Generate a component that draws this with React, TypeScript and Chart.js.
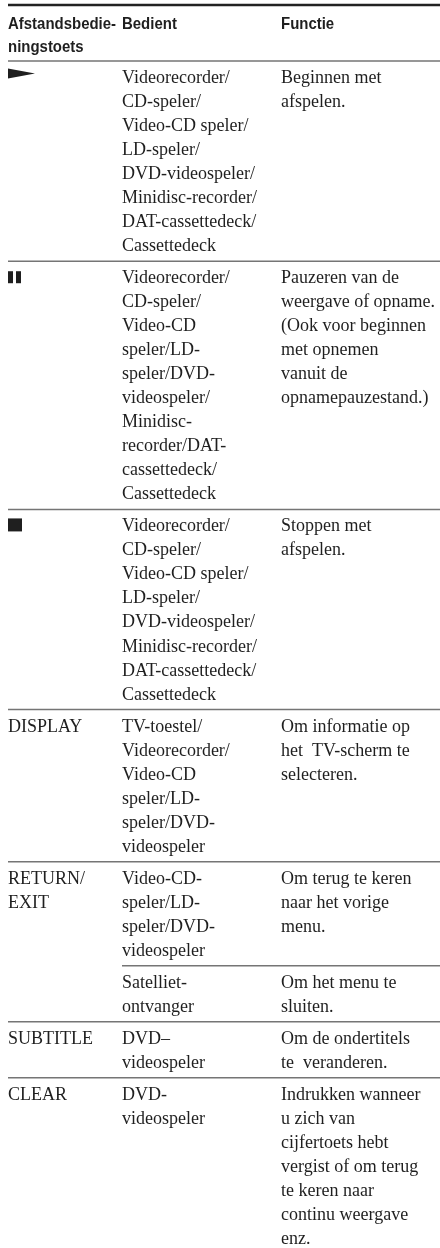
import React, { useEffect, useRef } from 'react';
import { Chart, registerables } from 'chart.js';

Chart.register(...registerables);

// ---------- DATA ----------
const headerLabels: string[][] = [['Afstandsbedie-', 'ningstoets'], ['Bedient'], ['Functie']];

const keyLabels: string[][] = [
  ['►'],
  ['❚❚'],
  ['■'],
  ['DISPLAY'],
  ['RETURN/', 'EXIT'],
  ['SUBTITLE'],
  ['CLEAR'],
];

const deviceLines: string[][][] = [
  [['Videorecorder/', 'CD-speler/', 'Video-CD speler/', 'LD-speler/', 'DVD-videospeler/', 'Minidisc-recorder/', 'DAT-cassettedeck/', 'Cassettedeck']],
  [['Videorecorder/', 'CD-speler/', 'Video-CD', 'speler/LD-', 'speler/DVD-', 'videospeler/', 'Minidisc-', 'recorder/DAT-', 'cassettedeck/', 'Cassettedeck']],
  [['Videorecorder/', 'CD-speler/', 'Video-CD speler/', 'LD-speler/', 'DVD-videospeler/', 'Minidisc-recorder/', 'DAT-cassettedeck/', 'Cassettedeck']],
  [['TV-toestel/', 'Videorecorder/', 'Video-CD', 'speler/LD-', 'speler/DVD-', 'videospeler']],
  [['Video-CD-', 'speler/LD-', 'speler/DVD-', 'videospeler'], ['Satelliet-', 'ontvanger']],
  [['DVD–', 'videospeler']],
  [['DVD-', 'videospeler']],
];

const functionLines: string[][][] = [
  [['Beginnen met', 'afspelen.']],
  [['Pauzeren van de', 'weergave of opname.', '(Ook voor beginnen', 'met opnemen', 'vanuit de', 'opnamepauzestand.)']],
  [['Stoppen met', 'afspelen.']],
  [['Om informatie op', 'het  TV-scherm te', 'selecteren.']],
  [['Om terug te keren', 'naar het vorige', 'menu.'], ['Om het menu te', 'sluiten.']],
  [['Om de ondertitels', 'te  veranderen.']],
  [['Indrukken wanneer', 'u zich van', 'cijfertoets hebt', 'vergist of om terug', 'te keren naar', 'continu weergave', 'enz.']],
];

// ---------- LAYOUT / STYLE ----------
const LINE_PX = 24;
const PAD_UNITS = 1 / 3;
const BASELINE_UNITS = 22 / 24;
const HEAD_BASELINE_UNITS = 24 / 24;
const HEAD_LINE_UNITS = 23 / 24;
const TOP_PX = 5;
const LEFT_PX = 8;
const COL_STARTS = [0, 114, 273];
const X_MAX = 432;
const BODY_FONT = '18px "Liberation Serif", "Times New Roman", serif';
const HEAD_FONT = 'bold 17px "Liberation Sans", Arial, sans-serif';
const HEAD_SQUEEZE = 0.88;
const TEXT_COLOR = '#1f1f1f';
const RULE_DARK = '#222222';
const RULE_GREY = '#757575';

type Segment = { start: number; lines: number; group: number; sub: number };

function buildSegments() {
  const segs: Segment[] = [];
  let pos = 0;
  const headLines = Math.max(...headerLabels.map((h) => h.length));
  segs.push({ start: pos, lines: headLines, group: -1, sub: 0 });
  pos += headLines + PAD_UNITS;
  deviceLines.forEach((subs, g) => {
    subs.forEach((dev, s) => {
      const fn = functionLines[g][s] || [];
      const key = s === 0 ? keyLabels[g] : [];
      const n = Math.max(dev.length, fn.length, key.length);
      segs.push({ start: pos, lines: n, group: g, sub: s });
      pos += n + PAD_UNITS;
    });
  });
  return { segs, total: pos };
}

const { segs, total } = buildSegments();
const CANVAS_H = Math.ceil(TOP_PX + total * LINE_PX);

function drawSymbol(ctx: CanvasRenderingContext2D, label: string, x0: number, b: number): boolean {
  ctx.fillStyle = TEXT_COLOR;
  if (label === '►') {
    ctx.beginPath();
    ctx.moveTo(x0, b - 14.5);
    ctx.lineTo(x0 + 27, b - 9.5);
    ctx.lineTo(x0, b - 4.5);
    ctx.closePath();
    ctx.fill();
    return true;
  }
  if (label === '❚❚') {
    ctx.fillRect(x0, b - 12, 5, 12);
    ctx.fillRect(x0 + 8, b - 12, 5, 12);
    return true;
  }
  if (label === '■') {
    ctx.fillRect(x0, b - 13, 14, 13);
    return true;
  }
  return false;
}

const tablePlugin = {
  id: 'tableCells',
  afterDraw(chart: any) {
    const { ctx } = chart;
    const x = chart.scales.x;
    const y = chart.scales.y;
    const colPx = COL_STARTS.map((c) => x.getPixelForValue(c));
    const right = x.getPixelForValue(X_MAX);
    ctx.save();

    // top rule
    ctx.strokeStyle = RULE_DARK;
    ctx.lineWidth = 2.5;
    ctx.beginPath();
    ctx.moveTo(colPx[0], y.getPixelForValue(0));
    ctx.lineTo(right, y.getPixelForValue(0));
    ctx.stroke();

    segs.forEach((seg, i) => {
      const next = segs[i + 1];
      if (next) {
        const yy = y.getPixelForValue(next.start);
        ctx.strokeStyle = RULE_GREY;
        ctx.lineWidth = 1.5;
        ctx.beginPath();
        ctx.moveTo(next.sub > 0 ? colPx[1] : colPx[0], yy);
        ctx.lineTo(right, yy);
        ctx.stroke();
      }

      ctx.textBaseline = 'alphabetic';
      ctx.textAlign = 'left';

      if (seg.group < 0) {
        ctx.font = HEAD_FONT;
        ctx.fillStyle = TEXT_COLOR;
        headerLabels.forEach((lines, c) => {
          lines.forEach((t, k) => {
            const w = ctx.measureText(t).width;
            const yy = y.getPixelForValue(seg.start + HEAD_BASELINE_UNITS + k * HEAD_LINE_UNITS);
            ctx.fillText(t, colPx[c], yy, w * HEAD_SQUEEZE);
          });
        });
        return;
      }

      const baseline = (k: number) => y.getPixelForValue(seg.start + BASELINE_UNITS + k);
      ctx.font = BODY_FONT;
      ctx.fillStyle = TEXT_COLOR;
      const cols: string[][] = [
        seg.sub === 0 ? keyLabels[seg.group] : [],
        deviceLines[seg.group][seg.sub] || [],
        functionLines[seg.group][seg.sub] || [],
      ];
      cols.forEach((lines, c) => {
        lines.forEach((t, k) => {
          if (c === 0 && drawSymbol(ctx, t, colPx[c], baseline(k))) return;
          ctx.fillStyle = TEXT_COLOR;
          ctx.fillText(t, colPx[c], baseline(k));
        });
      });
    });
    ctx.restore();
  },
};

export default function App() {
  const ref = useRef<HTMLCanvasElement | null>(null);
  useEffect(() => {
    if (!ref.current) return;
    const chart = new Chart(ref.current, {
      type: 'scatter',
      data: { datasets: [] },
      options: {
        animation: false,
        responsive: false,
        maintainAspectRatio: false,
        events: [],
        layout: { padding: { top: TOP_PX, left: LEFT_PX, right: 0, bottom: 0 } },
        plugins: { legend: { display: false }, tooltip: { enabled: false } },
        scales: {
          x: { type: 'linear', min: 0, max: X_MAX, display: false },
          y: { type: 'linear', min: 0, max: total, reverse: true, display: false },
        },
      },
      plugins: [tablePlugin],
    } as any);
    return () => chart.destroy();
  }, []);
  return (
    <div style={{ position: 'fixed', left: 0, top: 0, width: 440, height: 1248, overflow: 'hidden', background: '#fff' }}>
      <canvas ref={ref} width={440} height={CANVAS_H} style={{ display: 'block', width: 440, height: CANVAS_H }} />
    </div>
  );
}
